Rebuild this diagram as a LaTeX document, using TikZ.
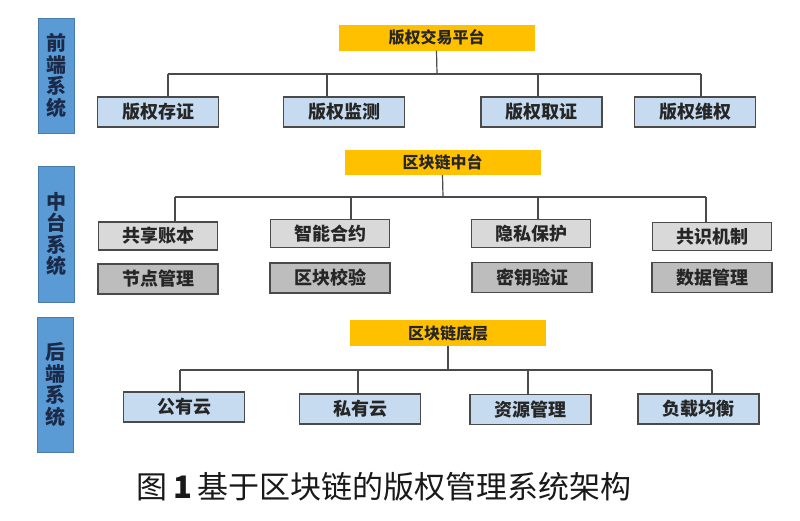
\documentclass[tikz,border=0pt]{standalone}
\usepackage{fontspec}
\setmainfont{Noto Sans CJK SC}
\usetikzlibrary{calc}
\definecolor{sideblue}{HTML}{5B9BD5}
\definecolor{sidetext}{HTML}{1A2A48}
\definecolor{leafblue}{HTML}{C6DBF0}
\definecolor{graylight}{HTML}{D9D9D9}
\definecolor{graydark}{HTML}{BDBDBD}
\definecolor{orangebar}{HTML}{FFC000}
\definecolor{edge}{HTML}{4A4A4A}
\tikzset{
  side/.style={fill=sideblue, draw=sideblue!80!black, line width=0.8pt, minimum width=36pt,
    align=center, text=sidetext, font=\fontsize{20}{21.5}\selectfont\bfseries},
  bar/.style={fill=orangebar, minimum width=196pt, minimum height=26pt,
    text=black!85, font=\fontsize{16}{18}\selectfont\bfseries},
  leaf/.style={fill=leafblue, draw=edge, line width=1.2pt, minimum width=121pt, minimum height=30pt,
    text=black!85, font=\fontsize{18}{20}\selectfont\bfseries},
  core/.style={leaf, fill=graylight, minimum width=119pt, minimum height=28pt},
  base/.style={leaf, fill=graydark, minimum width=120pt, minimum height=30pt},
  link/.style={draw=edge, line width=1.2pt}
}
\begin{document}
\begin{tikzpicture}[x=1pt,y=-1pt]
\useasboundingbox[fill=white] (0,0) rectangle (800,520);

%Side labels
\node[side, minimum height=115pt] (front) at (56,75.5) {前\\端\\系\\统};
\node[side, minimum height=136pt] (middle) at (56.5,234) {中\\台\\系\\统};
\node[side, minimum height=135pt] (back) at (55.5,384.5) {后\\端\\系\\统};

%Front system
\node[bar] (plat) at (436.5,37.5) {版权交易平台};
\coordinate (busF) at (437,74);
\draw[link] (plat.south) -- (busF);
\draw[link] (busF -| 168,0) -- (busF -| 701,0);
\foreach \n/\x/\tp/\t in {cz/158/168/版权存证, jc/344/327/版权监测, qz/541.5/538/版权取证, wq/695/701/版权维权}
{
	\node[leaf] (\n) at (\x,112) {\t};
	\draw[link] (\n.north -| \tp,0) -- (busF -| \tp,0);
}

%Middle system
\node[bar, minimum height=25pt] (chain) at (442.5,162.5) {区块链中台};
\coordinate (busM) at (443,197);
\draw[link] (chain.south) -- (busM);
\draw[link] (busM -| 175,0) -- (busM -| 706,0);
\foreach \n/\x/\y/\tp/\t in {zb/158/236/175/共享账本, hy/330/233.5/351/智能合约, ys/531/233.5/538/隐私保护, gs/712/236.5/706/共识机制}
{
	\node[core] (\n) at (\x,\y) {\t};
	\draw[link] (\n.north -| \tp,0) -- (busM -| \tp,0);
}
\foreach \n/\x/\y/\t in {jd/158/279/节点管理, kj/330/278/区块校验, my/532/277.5/密钥验证, sj/712/277.5/数据管理}
	\node[base] (\n) at (\x,\y) {\t};

%Back system
\node[bar] (layer) at (448,333) {区块链底层};
\coordinate (busB) at (448,370);
\draw[link] (layer.south) -- (busB);
\draw[link] (busB -| 180,0) -- (busB -| 712,0);
\foreach \n/\x/\y/\tp/\t in {gy/184/407/180/公有云, sy/360/409/358/私有云, zy/530.5/409.5/528/资源管理, fz/698.5/409/712/负载均衡}
{
	\node[leaf] (\n) at (\x,\y) {\t};
	\draw[link] (\n.north -| \tp,0) -- (busB -| \tp,0);
}

%Caption
\node[font=\fontsize{31}{34}\selectfont, text=black!90] (caption) at (384,487) {图\,\textbf{1}\,基于区块链的版权管理系统架构};

\end{tikzpicture}
\end{document}
